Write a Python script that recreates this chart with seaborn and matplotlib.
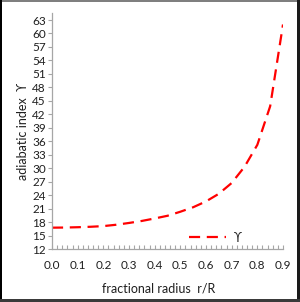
import numpy as np
import pandas as pd
import matplotlib
matplotlib.use("Agg")
import matplotlib.pyplot as plt
import seaborn as sns
from matplotlib.patches import Rectangle
from matplotlib.ticker import MultipleLocator

r = [0.0, 0.05, 0.1, 0.15, 0.2, 0.25, 0.3, 0.35, 0.4, 0.45, 0.5, 0.55,
     0.6, 0.65, 0.7, 0.75, 0.8, 0.85, 0.9]
gamma = [16.75, 16.78, 16.85, 16.95, 17.1, 17.4, 17.8, 18.25, 18.8, 19.4,
         20.3, 21.3, 22.6, 24.3, 26.7, 30.3, 35.2, 43.8, 62.0]
xticks = [0.0, 0.1, 0.2, 0.3, 0.4, 0.5, 0.6, 0.7, 0.8, 0.9]
yticks = list(range(12, 64, 3))

sns.set_theme(style="white")
plt.rcParams['font.family'] = ['Lato', 'DejaVu Sans']

df = pd.DataFrame({"r": r, "gamma": gamma})

fig = plt.figure(figsize=(3.0, 3.02), dpi=100)
ax = fig.add_axes([52/300, 1 - 249/302, (283-52)/300, (249-13)/302])

sns.lineplot(data=df, x="r", y="gamma", ax=ax, color="#ff0000", lw=1.6,
             dashes=False, label="ϒ")
ax.lines[0].set_linestyle((0, (5, 3)))

ax.set_xlim(0, 0.9)
ax.set_ylim(12, 12 + 51 * (249-13) / 229)
ax.set_xticks(xticks)
ax.set_xticklabels([f"{v:.1f}" for v in xticks])
ax.set_yticks(yticks)
ax.set_yticklabels([str(v) for v in yticks])
ax.xaxis.set_minor_locator(MultipleLocator(0.02))

for s in ["top", "right"]:
    ax.spines[s].set_visible(False)
for s in ["left", "bottom"]:
    ax.spines[s].set_color("#a6a6a6")
    ax.spines[s].set_linewidth(0.9)

tc = "#1f1f1f"
ax.tick_params(axis="y", which="major", direction="out", length=3, width=0.8,
               color="#a6a6a6", labelsize=8.5, pad=1.5, left=True, labelcolor=tc)
ax.tick_params(axis="x", which="major", direction="in", length=3, width=0.8,
               color="#a6a6a6", labelsize=8.5, pad=8, bottom=True, labelcolor=tc)
ax.tick_params(axis="x", which="minor", direction="in", length=3, width=0.8,
               color="#a6a6a6", bottom=True)

ax.set_xlabel("fractional radius  r/R", fontsize=9, color=tc)
ax.xaxis.set_label_coords(0.46, -0.14)
ax.set_ylabel("adiabatic index  ϒ", fontsize=9, color=tc, labelpad=2)

leg = ax.legend(loc="lower right", bbox_to_anchor=(0.87, -0.025), frameon=False,
                fontsize=9, handlelength=3.0, handletextpad=0.6)
for t in leg.get_texts():
    t.set_color(tc)

# figure frame
fig.add_artist(Rectangle((0, 1 - 2/302), 1, 2/302, transform=fig.transFigure,
                         color="#7f7f7f", lw=0))
fig.add_artist(Rectangle((0, 0), 2/300, 1, transform=fig.transFigure,
                         color="#000000", lw=0))
fig.add_artist(Rectangle((297/300, 0), 3/300, 1, transform=fig.transFigure,
                         color="#1a1a1a", lw=0))
fig.add_artist(Rectangle((0, 0), 1, 3/302, transform=fig.transFigure,
                         color="#3a3a3a", lw=0))

fig.savefig("out.png", dpi=100)
